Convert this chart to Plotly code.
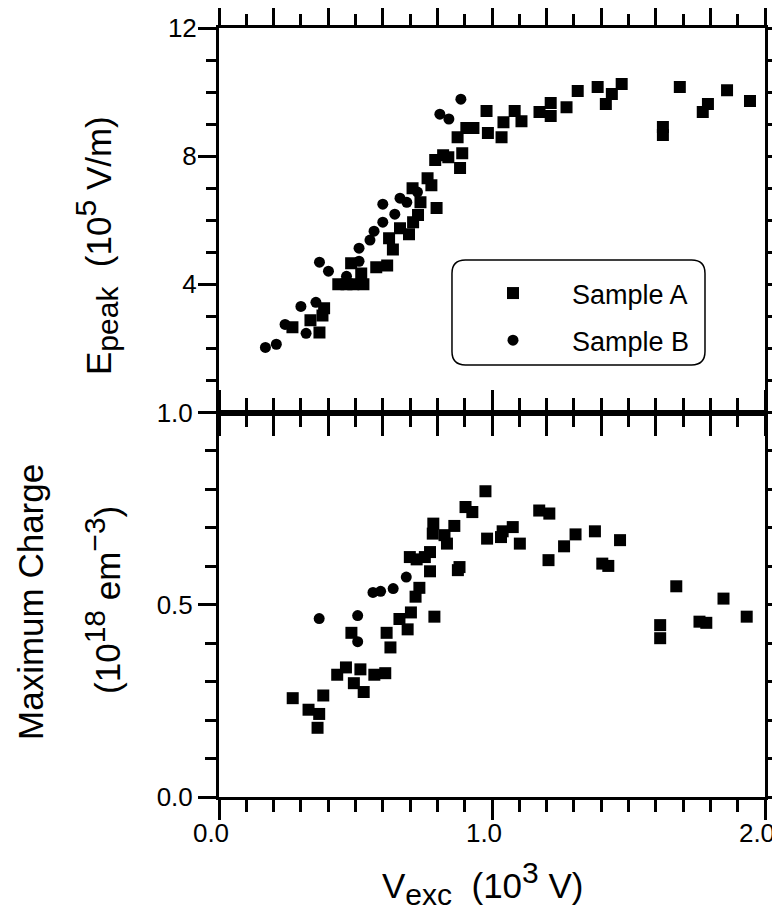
import plotly.graph_objects as go

# ---------------- data ----------------
# Top panel: E_peak (10^5 V/m) vs V_exc (10^3 V)
top_a_x = [0.269, 0.335, 0.368, 0.379, 0.385, 0.437, 0.467, 0.492, 0.529, 0.484, 0.521, 0.576,
           0.616, 0.623, 0.637, 0.663, 0.696, 0.711, 0.729, 0.709, 0.738, 0.764, 0.778, 0.797,
           0.792, 0.821, 0.840, 0.891, 0.883, 0.874, 0.906, 0.932, 0.985, 0.980, 1.035, 1.042,
           1.083, 1.108, 1.174, 1.215, 1.215, 1.273, 1.314, 1.387, 1.439, 1.417, 1.475, 1.626,
           1.626, 1.688, 1.772, 1.791, 1.861, 1.945]
top_a_y = [2.66, 2.88, 2.50, 3.03, 3.25, 4.00, 4.00, 4.00, 4.00, 4.66, 4.34, 4.53,
           4.59, 5.44, 5.09, 5.75, 5.56, 5.94, 6.16, 7.00, 6.56, 7.31, 7.09, 6.38,
           7.88, 8.03, 7.97, 8.09, 7.63, 8.59, 8.88, 8.88, 8.72, 9.41, 8.59, 9.06,
           9.41, 9.09, 9.38, 9.66, 9.25, 9.53, 10.03, 10.16, 9.94, 9.63, 10.25, 8.66,
           8.91, 10.16, 9.38, 9.63, 10.06, 9.72]
top_b_x = [0.170, 0.210, 0.242, 0.300, 0.319, 0.355, 0.368, 0.401, 0.467, 0.513, 0.513,
           0.553, 0.568, 0.600, 0.600, 0.644, 0.663, 0.688, 0.727, 0.809, 0.842, 0.886]
top_b_y = [2.03, 2.13, 2.75, 3.31, 2.47, 3.44, 4.69, 4.41, 4.25, 5.13, 4.72,
           5.38, 5.66, 6.50, 5.94, 6.19, 6.69, 6.56, 6.88, 9.31, 9.16, 9.78]

# Bottom panel: maximum charge (10^18 cm^-3) vs V_exc
bot_a_x = [0.270, 0.328, 0.367, 0.361, 0.382, 0.433, 0.465, 0.494, 0.518, 0.530, 0.485, 0.569,
           0.609, 0.614, 0.628, 0.661, 0.691, 0.703, 0.720, 0.734, 0.699, 0.724, 0.754, 0.773,
           0.773, 0.789, 0.785, 0.783, 0.826, 0.835, 0.862, 0.875, 0.881, 0.903, 0.928, 0.976,
           0.982, 1.033, 1.039, 1.076, 1.102, 1.173, 1.210, 1.207, 1.264, 1.306, 1.377, 1.404,
           1.426, 1.469, 1.616, 1.616, 1.675, 1.760, 1.785, 1.848, 1.933]
bot_a_y = [0.257, 0.227, 0.216, 0.180, 0.264, 0.318, 0.337, 0.296, 0.332, 0.273, 0.427, 0.318,
           0.322, 0.427, 0.389, 0.463, 0.436, 0.480, 0.521, 0.544, 0.624, 0.618, 0.624, 0.637,
           0.587, 0.469, 0.711, 0.685, 0.681, 0.659, 0.705, 0.590, 0.598, 0.754, 0.741, 0.795,
           0.672, 0.676, 0.691, 0.702, 0.659, 0.745, 0.737, 0.616, 0.652, 0.683, 0.691, 0.607,
           0.601, 0.668, 0.447, 0.413, 0.548, 0.456, 0.453, 0.516, 0.469]
bot_b_x = [0.367, 0.508, 0.508, 0.564, 0.592, 0.638, 0.686]
bot_b_y = [0.464, 0.472, 0.404, 0.532, 0.535, 0.542, 0.572]

x_tickvals = [0, 1, 2]
x_ticktext = ["0.0", "1.0", "2.0"]
top_tickvals = [0, 4, 8, 12]
top_ticktext = ["", "4", "8", "12"]
bot_tickvals = [0, 0.5, 1.0]
bot_ticktext = ["0.0", "0.5", "1.0"]

# ---------------- figure ----------------
FONT = "Liberation Sans, Arial, Helvetica, sans-serif"
sq = dict(symbol="square", size=12, color="black", line=dict(width=0))
ci = dict(symbol="circle", size=11, color="black", line=dict(width=0))

fig = go.Figure()
fig.add_trace(go.Scatter(x=top_a_x, y=top_a_y, mode="markers", marker=sq, name="Sample A",
                         legendgroup="a", xaxis="x", yaxis="y"))
fig.add_trace(go.Scatter(x=top_b_x, y=top_b_y, mode="markers", marker=ci, name="Sample B",
                         legendgroup="b", xaxis="x", yaxis="y"))
fig.add_trace(go.Scatter(x=bot_a_x, y=bot_a_y, mode="markers", marker=sq, name="Sample A",
                         showlegend=False, xaxis="x2", yaxis="y2"))
fig.add_trace(go.Scatter(x=bot_b_x, y=bot_b_y, mode="markers", marker=ci, name="Sample B",
                         showlegend=False, xaxis="x2", yaxis="y2"))

axis_common = dict(showline=True, linewidth=3, linecolor="black", mirror="ticks",
                   ticks="outside", tickwidth=2.5, tickcolor="black",
                   showgrid=False, zeroline=False, automargin=False,
                   tickfont=dict(family=FONT, size=26, color="black"))

def minor(dt, ln):
    return dict(dtick=dt, tick0=0, ticklen=ln, tickwidth=2.5, ticks="outside",
                tickcolor="black", showgrid=False)

# the page body adds an 8px offset, so the figure is drawn 8px smaller on each side
fig.update_layout(
    width=772, height=908,
    margin=dict(l=211, r=15, t=20, b=119),
    paper_bgcolor="white", plot_bgcolor="white",
    font=dict(family=FONT, color="black"),
    xaxis=dict(domain=[0, 1], anchor="y", range=[0, 2], matches="x2",
               tick0=0, dtick=0.2, ticklen=20, showticklabels=False,
               minor=minor(0.1, 11), **axis_common),
    xaxis2=dict(domain=[0, 1], anchor="y2", range=[0, 2],
                tickvals=x_tickvals, ticktext=x_ticktext, ticklen=20,
                ticklabelstandoff=-9, ticklabelshift=-8, ticklabeloverflow="allow",
                minor=minor(0.1, 12), **axis_common),
    yaxis=dict(domain=[0.5, 1], anchor="x", range=[0, 12],
               tickvals=top_tickvals, ticktext=top_ticktext, ticklen=18,
               ticklabelstandoff=-4,
               minor=minor(1, 10), **axis_common),
    yaxis2=dict(domain=[0, 0.5], anchor="x2", range=[0, 1],
                tickvals=bot_tickvals, ticktext=bot_ticktext, ticklen=18,
                minor=minor(0.1, 11), **axis_common),
    showlegend=True,
    legend=dict(x=0.4304, y=0.6866, xanchor="left", yanchor="top",
                bgcolor="rgba(0,0,0,0)", borderwidth=0, itemwidth=108,
                tracegroupgap=9,
                font=dict(family=FONT, size=27, color="black")),
)

# rounded legend frame
x0, x1, y0, y1 = 0.4267, 0.8901, 0.5618, 0.6983
rx, ry = 0.0245, 0.0174
path = (f"M {x0+rx},{y1} L {x1-rx},{y1} Q {x1},{y1} {x1},{y1-ry} "
        f"L {x1},{y0+ry} Q {x1},{y0} {x1-rx},{y0} L {x0+rx},{y0} "
        f"Q {x0},{y0} {x0},{y0+ry} L {x0},{y1-ry} Q {x0},{y1} {x0+rx},{y1} Z")
fig.add_shape(type="path", path=path, xref="paper", yref="paper",
              line=dict(color="black", width=1.5), fillcolor="rgba(0,0,0,0)")

S = 30  # size of sub/superscripts
ann_font = dict(family=FONT, size=35, color="black")
fig.add_annotation(text=f"V<sub><span style='font-size:{S}px'>exc</span></sub>  (10<sup><span style='font-size:{S}px'>3</span></sup> V)",
                   x=0.4835, y=-0.1131, xref="paper", yref="paper",
                   xanchor="center", yanchor="middle", showarrow=False, font=ann_font)
fig.add_annotation(text=f"E<sub><span style='font-size:{S}px'>peak</span></sub>  (10<sup><span style='font-size:{S}px'>5</span></sup> V/m)",
                   x=-0.2253, y=0.7178, xref="paper", yref="paper", textangle=-90,
                   xanchor="center", yanchor="middle", showarrow=False, font=ann_font)
fig.add_annotation(text="Maximum Charge",
                   x=-0.3443, y=0.2536, xref="paper", yref="paper", textangle=-90,
                   xanchor="center", yanchor="middle", showarrow=False, font=ann_font)
fig.add_annotation(text=f"(10<sup><span style='font-size:{S}px'>18</span></sup> em<sup><span style='font-size:{S}px'>−3</span></sup>)",
                   x=-0.2125, y=0.2562, xref="paper", yref="paper", textangle=-90,
                   xanchor="center", yanchor="middle", showarrow=False, font=ann_font)

fig.write_html("out.html")
